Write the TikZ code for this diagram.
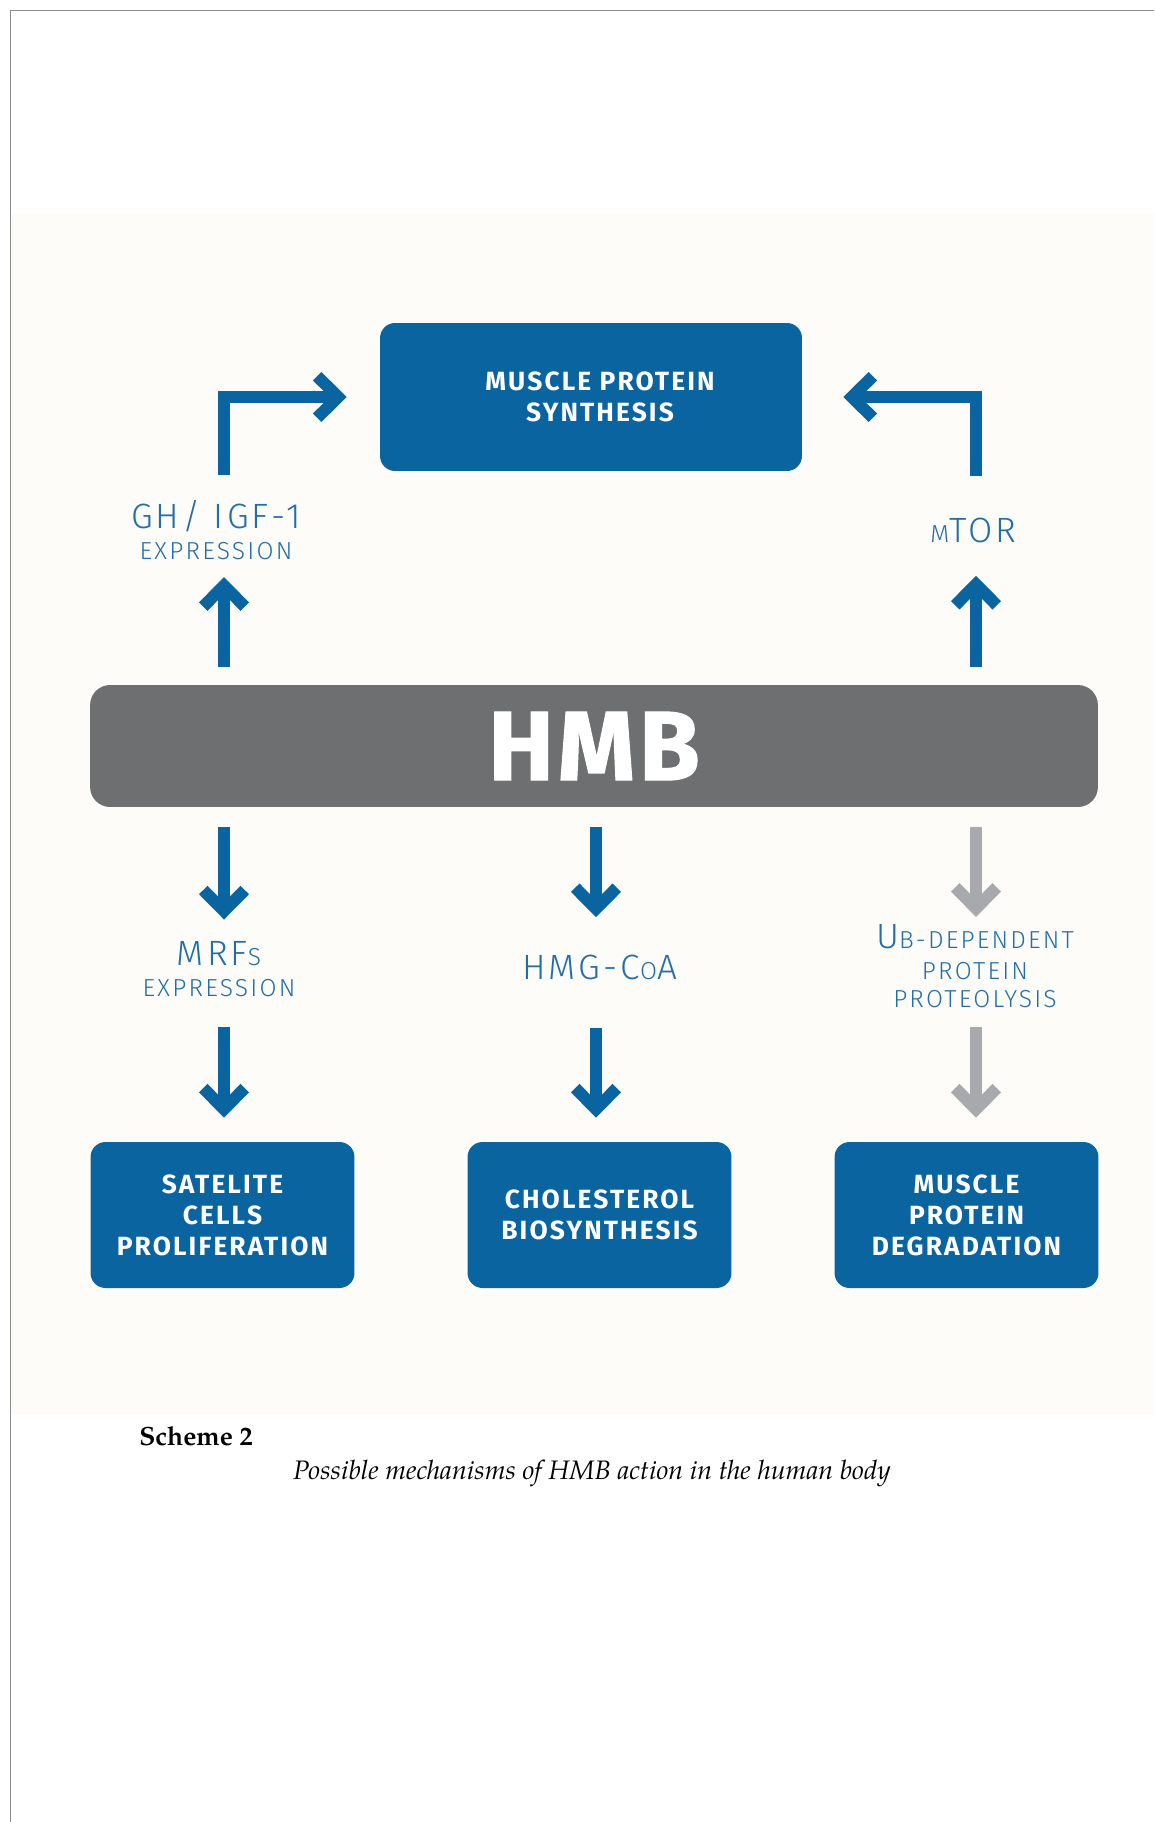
\documentclass[tikz,border=0pt]{standalone}
\usepackage{fontspec}
\setmainfont{Fira Sans}
\IfFontExistsTF{Fira Sans Light}
  {\newfontfamily\thinfont{Fira Sans Light}[LetterSpace=9]}
  {\newfontfamily\thinfont{Fira Sans}[LetterSpace=9]}
\newfontfamily\boxfont{Fira Sans}[LetterSpace=8]
\newfontfamily\hmbfont{Fira Sans}[LetterSpace=4, FakeBold=1.2]
\IfFontExistsTF{TeX Gyre Pagella}
  {\newfontfamily\capfont{TeX Gyre Pagella}}
  {\newfontfamily\capfont{Liberation Serif}}
\usepackage{tikz}
\usetikzlibrary{positioning,arrows.meta}
\definecolor{boxblue}{RGB}{10,100,160}
\definecolor{labelblue}{RGB}{34,110,170}
\definecolor{hmbgray}{RGB}{110,111,112}
\definecolor{arrowgray}{RGB}{167,169,172}
\definecolor{creambg}{RGB}{253,252,248}
\definecolor{framegray}{RGB}{140,140,140}
\newcommand{\lblbig}{\fontsize{20}{17.6}\selectfont}
\newcommand{\smallcap}[1]{{\fontsize{14}{17.6}\selectfont #1}}
\tikzset{
  box/.style={fill=boxblue, rounded corners=0.3cm, text=white, align=center,
    inner sep=0pt, font=\boxfont\bfseries\fontsize{15}{17.6}\selectfont,
    minimum width=5.28cm, minimum height=2.92cm},
  bar/.style={fill=hmbgray, rounded corners=0.4cm, text=white, inner sep=0pt,
    font=\hmbfont\bfseries\fontsize{56}{60}\selectfont,
    minimum width=20.16cm, minimum height=2.44cm},
  lbl/.style={text=labelblue, align=center, inner sep=0pt,
    font=\thinfont\fontsize{14}{17.6}\selectfont},
  flow/.style={draw=boxblue, line width=0.24cm,
    -{Straight Barb[length=0.42cm, width=0.83cm, sharp]}},
  flowgray/.style={flow, draw=arrowgray},
}
\begin{document}
\begin{tikzpicture}[x=0.02cm, y=-0.02cm]
  \useasboundingbox (0,0) rectangle (1154,1822);
  \fill[creambg] (10,213) rectangle (1154,1415);
  \draw[framegray, line width=0.03cm] (1154,10.5) -- (10.5,10.5) -- (10.5,1822);

  \node[box, minimum width=8.44cm, minimum height=2.96cm] (msp) at (591,397)
    {\hspace*{0.36cm}MUSCLE PROTEIN\\\hspace*{0.36cm}SYNTHESIS};
  \node[bar] (hmb) at (594,746) {HMB};
  \node[box] (sat) at (222.5,1215) {SATELITE\\CELLS\\PROLIFERATION};
  \node[box] (chol) at (599.5,1215) {CHOLESTEROL\\BIOSYNTHESIS};
  \node[box] (deg) at (966.5,1215) {MUSCLE\\PROTEIN\\DEGRADATION};

  \node[lbl] (gh) at (216,530) {{\lblbig GH/ IGF-1}\\EXPRESSION};
  \node[lbl] (mtor) at (973.5,530) {\smallcap{M}{\lblbig TOR}};
  \node[lbl] (mrf) at (219,969.5) {{\lblbig MRF}\smallcap{S}\\EXPRESSION};
  \node[lbl] (hmg) at (599.5,967) {{\lblbig HMG-C}\smallcap{O}{\lblbig A}};
  \node[lbl] (ub) at (975,966) {{\lblbig U}\smallcap{B-DEPENDENT}\\PROTEIN\\[-1.5pt]PROTEOLYSIS};

  \coordinate (colL) at (224,0);
  \coordinate (colM) at (596,0);
  \coordinate (colR) at (976,0);

  \draw[flow, shorten <=0.36cm, shorten >=0.34cm] (hmb.north -| colL) -- (gh.south -| colL);
  \draw[flow, shorten <=0.36cm, shorten >=0.66cm] (hmb.north -| colR) -- (mtor.south -| colR);
  \draw[flow, shorten <=0.5cm, shorten >=0.66cm] (gh.north -| colL) |- (msp.west);
  \draw[flow, shorten <=0.82cm, shorten >=0.82cm] (mtor.north -| colR) |- (msp.east);

  \draw[flow, shorten <=0.4cm, shorten >=0.44cm] (hmb.south -| colL) -- (mrf.north -| colL);
  \draw[flow, shorten <=0.4cm, shorten >=0.74cm] (hmb.south -| colM) -- (hmg.north -| colM);
  \draw[flowgray, shorten <=0.4cm, shorten >=0.14cm] (hmb.south -| colR) -- (ub.north -| colR);
  \draw[flow, shorten <=0.6cm, shorten >=0.48cm] (mrf.south -| colL) -- (sat.north -| colL);
  \draw[flow, shorten <=0.96cm, shorten >=0.48cm] (hmg.south -| colM) -- (chol.north -| colM);
  \draw[flowgray, shorten <=0.38cm, shorten >=0.48cm] (ub.south -| colR) -- (deg.north -| colR);

  \node[anchor=west, inner sep=0pt, font=\capfont\bfseries\fontsize{15}{18}\selectfont] (schm) at (139,1436) {Scheme 2};
  \node[font=\capfont\itshape\fontsize{15.2}{18}\selectfont] (capt) at (592,1473)
    {Possible mechanisms of HMB action in the human body};
\end{tikzpicture}
\end{document}
